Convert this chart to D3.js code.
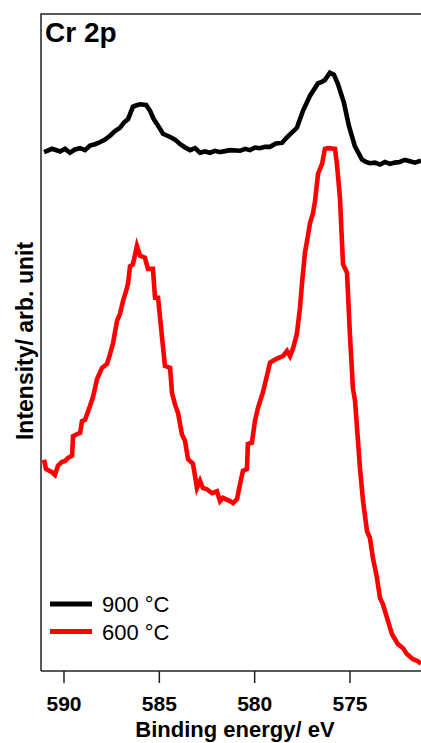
<!DOCTYPE html>
<meta charset="utf-8">
<head>
  <style>
  body { margin: 0; background: #fff; }
  svg { display: block; font-family: "Liberation Sans", Arial, sans-serif; }
  .trace { fill: none; stroke-width: 4.6px; stroke-linejoin: miter; }
  .axis path, .axis line { stroke: #222; stroke-width: 1.5px; }
  .axis text { font-size: 21px; font-weight: bold; fill: #000; font-family: "Liberation Sans", Arial, sans-serif; }
  </style>
</head>
<body>
<svg width="421" height="743"></svg>
<script src="https://d3js.org/d3.v7.min.js"></script>
<script>

// Cr 2p, 900 C (binding energy eV / intensity arb.)
var energy900 = [591.02, 590.60, 590.18, 589.92, 589.66, 589.40, 589.13, 588.87, 588.61, 588.35, 588.09,
  587.82, 587.56, 587.30, 587.04, 586.83, 586.62, 586.36, 586.20, 585.99, 585.67, 585.46, 585.28, 585.10,
  584.78, 584.41, 584.15, 583.88, 583.62, 583.36, 583.10, 582.84, 582.58, 582.32, 582.05, 581.79, 581.27,
  580.74, 580.48, 580.22, 579.96, 579.70, 579.43, 579.17, 578.86, 578.54, 578.33, 578.12, 577.76, 577.44,
  577.07, 576.65, 576.45, 576.29, 576.03, 575.82, 575.61, 575.29, 575.03, 574.72, 574.35, 574.14, 573.93,
  573.66, 573.40, 573.14, 572.88, 572.62, 572.36, 572.10, 571.83, 571.57, 571.25];
var int900 = [79.1, 79.6, 79.2, 79.6, 79.0, 79.5, 79.7, 79.4, 80.1, 80.3, 80.6,
  81.0, 81.6, 82.3, 82.8, 83.6, 84.1, 86.0, 86.2, 86.4, 86.3, 85.4, 84.2, 83.4,
  81.9, 81.4, 81.0, 80.3, 79.8, 79.4, 79.7, 79.0, 79.2, 79.0, 79.3, 79.1, 79.4,
  79.3, 79.6, 79.4, 79.8, 79.7, 79.9, 79.9, 80.4, 80.5, 81.2, 81.8, 82.8, 85.4,
  87.7, 89.6, 89.8, 90.1, 91.2, 90.9, 89.5, 86.6, 83.1, 80.0, 78.0, 77.6, 77.4,
  77.5, 77.2, 77.6, 77.3, 77.5, 77.6, 77.9, 77.7, 77.5, 77.8];

// Cr 2p, 600 C
var energy600 = [591.02, 590.92, 590.60, 590.45, 590.29, 590.08, 589.92, 589.76, 589.55, 589.50, 589.29,
  589.13, 589.03, 588.87, 588.61, 588.45, 588.24, 587.98, 587.72, 587.56, 587.40, 587.19, 587.04, 586.88,
  586.72, 586.62, 586.51, 586.36, 586.15, 585.99, 585.73, 585.57, 585.31, 585.20, 585.04, 584.83, 584.68,
  584.41, 584.31, 584.15, 583.99, 583.79, 583.63, 583.47, 583.21, 583.00, 582.84, 582.69, 582.48, 582.21,
  581.95, 581.79, 581.64, 581.27, 581.11, 580.90, 580.74, 580.59, 580.38, 580.33, 580.12, 579.96, 579.80,
  579.54, 579.33, 579.17, 579.01, 578.75, 578.49, 578.28, 578.12, 577.96, 577.76, 577.60, 577.49, 577.34,
  577.23, 577.07, 576.92, 576.81, 576.65, 576.44, 576.29, 576.13, 575.76, 575.66, 575.50, 575.34, 575.13,
  574.98, 574.82, 574.71, 574.45, 574.29, 574.08, 573.93, 573.77, 573.56, 573.40, 573.25, 572.98, 572.77,
  572.46, 572.20, 571.99, 571.67, 571.41, 571.25];
var int600 = [32.2, 30.8, 30.3, 29.9, 31.3, 31.9, 32.0, 32.5, 32.8, 35.8, 36.1,
  36.3, 38.1, 38.3, 40.4, 41.8, 44.5, 46.2, 46.8, 48.3, 50.0, 53.4, 54.4, 56.4,
  57.9, 59.0, 61.7, 62.0, 64.8, 63.3, 63.0, 61.3, 61.3, 56.9, 56.9, 50.8, 46.5,
  46.2, 42.4, 40.6, 39.3, 36.1, 35.1, 32.3, 31.6, 27.9, 29.0, 27.9, 27.7, 27.1,
  27.4, 25.9, 26.4, 25.9, 25.6, 26.2, 28.5, 30.5, 30.8, 34.6, 34.8, 38.1, 40.1,
  42.5, 45.0, 47.0, 47.3, 47.7, 48.0, 48.8, 48.0, 49.2, 51.4, 55.3, 59.1, 63.7,
  65.5, 68.3, 69.7, 71.6, 75.8, 77.3, 79.6, 79.7, 79.6, 77.3, 72.1, 62.0, 60.7,
  51.4, 43.1, 41.2, 30.9, 25.9, 21.3, 20.3, 17.2, 14.2, 11.1, 10.2, 7.6, 5.6,
  4.1, 3.5, 2.6, 1.8, 1.5, 1.1];

var xTicks = [590, 585, 580, 575];
var seriesNames = ["900 \u00B0C", "600 \u00B0C"];
var seriesColors = ["#000000", "#ff0000"];

var svg = d3.select("svg"),
    width = +svg.attr("width"),
    height = +svg.attr("height");

var plotLeft = 41, plotTop = 14, plotBottom = 671, plotRight = 421;

var x = d3.scaleLinear().domain([591.18, 571.25]).range([plotLeft, plotRight]);
var y = d3.scaleLinear().domain([0, 100]).range([plotBottom, plotBottom - 656]);

// frame: left + top lines
svg.append("path")
    .attr("d", "M" + plotLeft + "," + plotBottom + "V" + plotTop + "H" + (plotRight + 10))
    .attr("fill", "none")
    .attr("stroke", "#222")
    .attr("stroke-width", 1.5);

var xAxis = d3.axisBottom(x)
    .tickValues(xTicks)
    .tickFormat(d3.format("d"))
    .tickSize(12)
    .tickPadding(13);

svg.append("g")
    .attr("class", "axis")
    .attr("transform", "translate(0," + plotBottom + ")")
    .call(xAxis)
    .call(function(g) { g.select(".domain").attr("d", "M" + plotLeft + ",0H" + (plotRight + 10)); });

var line = d3.line()
    .x(function(d) { return x(d[0]); })
    .y(function(d) { return y(d[1]); });

var series = [
  d3.zip(energy900, int900),
  d3.zip(energy600, int600)
];

svg.selectAll(".trace")
    .data(series)
  .enter().append("path")
    .attr("class", "trace")
    .attr("stroke", function(d, i) { return seriesColors[i]; })
    .attr("d", line);

// panel label
svg.append("text")
    .attr("x", 45)
    .attr("y", 42)
    .attr("font-size", 28)
    .attr("font-weight", "bold")
    .text("Cr 2p");

// axis titles
svg.append("text")
    .attr("x", 235)
    .attr("y", 737)
    .attr("text-anchor", "middle")
    .attr("font-size", 22)
    .attr("font-weight", "bold")
    .text("Binding energy/ eV");

svg.append("text")
    .attr("transform", "translate(33,341) rotate(-90)")
    .attr("text-anchor", "middle")
    .attr("font-size", 23)
    .attr("font-weight", "bold")
    .text("Intensity/ arb. unit");

// legend
var legend = svg.selectAll(".legend")
    .data(seriesNames)
  .enter().append("g")
    .attr("class", "legend")
    .attr("transform", function(d, i) { return "translate(50," + (604 + i * 27.5) + ")"; });

legend.append("line")
    .attr("x1", 0).attr("x2", 42)
    .attr("stroke", function(d, i) { return seriesColors[i]; })
    .attr("stroke-width", 5);

legend.append("text")
    .attr("x", 52)
    .attr("y", 8)
    .attr("font-size", 22)
    .text(function(d) { return d; });

</script>
